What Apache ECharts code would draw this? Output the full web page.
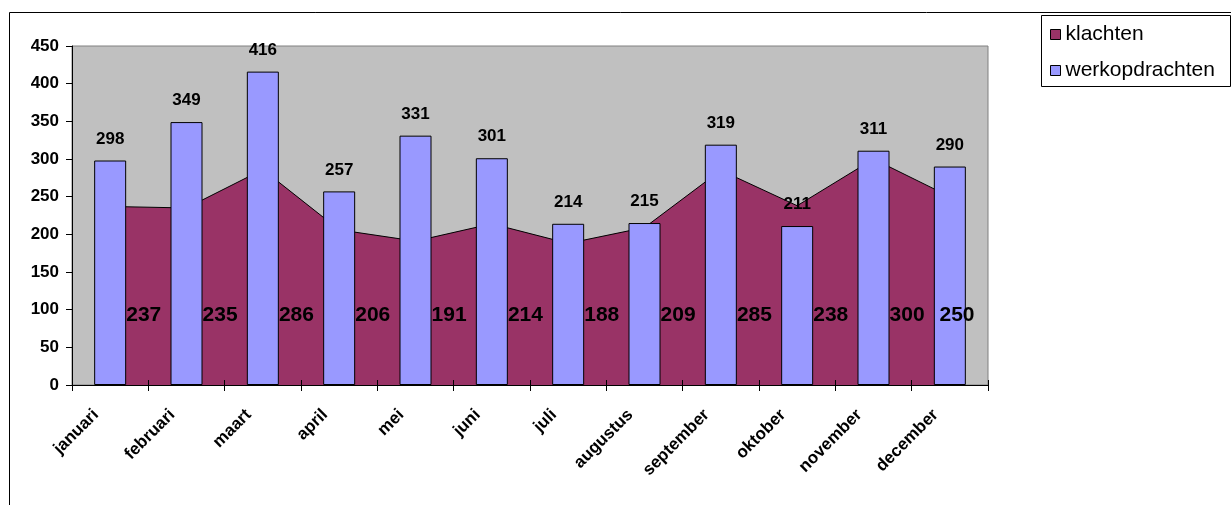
<!DOCTYPE html>
<html>
<head>
<meta charset="utf-8">
<script src="https://cdn.jsdelivr.net/npm/echarts@6/dist/echarts.min.js"></script>
<style>
html,body{margin:0;padding:0;background:#fff;}
#chart{width:1231px;height:505px;}
</style>
</head>
<body>
<div id="chart"></div>
<script>
const categories = ['januari','februari','maart','april','mei','juni','juli','augustus','september','oktober','november','december'];
const klachten = [237,235,286,206,191,214,188,209,285,238,300,250];
const werkopdrachten = [298,349,416,257,331,301,214,215,319,211,311,290];
const yTicks = {min: 0, max: 450, interval: 50};

const GRID = {left: 72, right: 243, top: 46, bottom: 120};
const chart = echarts.init(document.getElementById('chart'), null, {renderer: 'canvas'});
const fontFamily = 'Arial, "Liberation Sans", sans-serif';

const option = {
  backgroundColor: '#ffffff',
  animation: false,
  textStyle: {fontFamily: fontFamily},
  grid: {
    left: GRID.left, right: GRID.right, top: GRID.top, bottom: GRID.bottom,
    show: true, backgroundColor: '#C0C0C0', borderColor: '#808080', borderWidth: 1
  },
  legend: {
    orient: 'vertical', left: 1045, top: 19,
    itemWidth: 10, itemHeight: 10, itemGap: 15,
    icon: 'rect',
    textStyle: {fontSize: 21, color: '#000', fontFamily: fontFamily},
    data: [
      {name: 'klachten', itemStyle: {color: '#993366', borderColor: '#000', borderWidth: 1}},
      {name: 'werkopdrachten', itemStyle: {color: '#9999FF', borderColor: '#000', borderWidth: 1}}
    ]
  },
  xAxis: [{
    type: 'category', data: categories, boundaryGap: true, z: 10,
    axisLine: {show: true, lineStyle: {color: '#000', width: 1}},
    axisTick: {show: true, interval: 0, length: 6, lineStyle: {color: '#000'}},
    axisLabel: {interval: 0, rotate: 45, margin: 13, padding: [0, 20, 0, 0], fontSize: 17, fontWeight: 'bold', color: '#000', fontFamily: fontFamily},
    splitLine: {show: false}
  }, {
    type: 'category', data: categories, boundaryGap: true, position: 'bottom', z: 10,
    axisLine: {show: false},
    axisTick: {show: true, inside: true, interval: 0, length: 5, lineStyle: {color: '#000'}},
    axisLabel: {show: false},
    splitLine: {show: false}
  }],
  yAxis: {
    type: 'value', min: yTicks.min, max: yTicks.max, interval: yTicks.interval, z: 10,
    axisLine: {show: true, lineStyle: {color: '#000', width: 1}},
    axisTick: {show: true, length: 6, lineStyle: {color: '#000'}},
    axisLabel: {margin: 13, fontSize: 17, fontWeight: 'bold', color: '#000', fontFamily: fontFamily},
    splitLine: {show: false}
  },
  series: [
    {
      name: 'klachten', type: 'line', data: klachten, z: 1,
      symbol: 'none', showSymbol: false,
      lineStyle: {color: '#000', width: 1},
      itemStyle: {color: '#993366'},
      areaStyle: {color: '#993366', opacity: 1}
    },
    {
      name: 'werkopdrachten', type: 'bar', data: werkopdrachten, z: 3,
      barWidth: 32,
      itemStyle: {color: '#9999FF', borderColor: '#000', borderWidth: 1},
      label: {show: true, position: 'top', distance: 13, fontSize: 17, fontWeight: 'bold', color: '#000', fontFamily: fontFamily}
    },
    {
      name: 'klachtenLabels', type: 'custom', z: 5,
      data: klachten.map((v, i) => [i, v]),
      renderItem: function (params, api) {
        const base = api.coord([api.value(0), 0]);
        const band = api.size([1, 0])[0];
        const rightLimit = params.coordSys.x + params.coordSys.width - 31;
        let px = base[0] + band * 0.44;
        if (px > rightLimit) px = rightLimit;
        const py = base[1] - 70;
        return {
          type: 'text',
          x: px, y: py,
          style: {
            text: String(api.value(1)),
            font: 'bold 21px ' + fontFamily,
            fill: '#000',
            align: 'center',
            verticalAlign: 'middle'
          }
        };
      },
      silent: true
    }
  ],
  graphic: [
    {type: 'rect', shape: {x: 9.5, y: 12.5, width: 1400, height: 700}, style: {fill: null, stroke: '#000', lineWidth: 1}, z: -10, silent: true},
    {type: 'rect', shape: {x: 1041.5, y: 15.5, width: 189, height: 71}, style: {fill: '#fff', stroke: '#000', lineWidth: 1}, z: -5, silent: true}
  ]
};
chart.setOption(option);
</script>
</body>
</html>
